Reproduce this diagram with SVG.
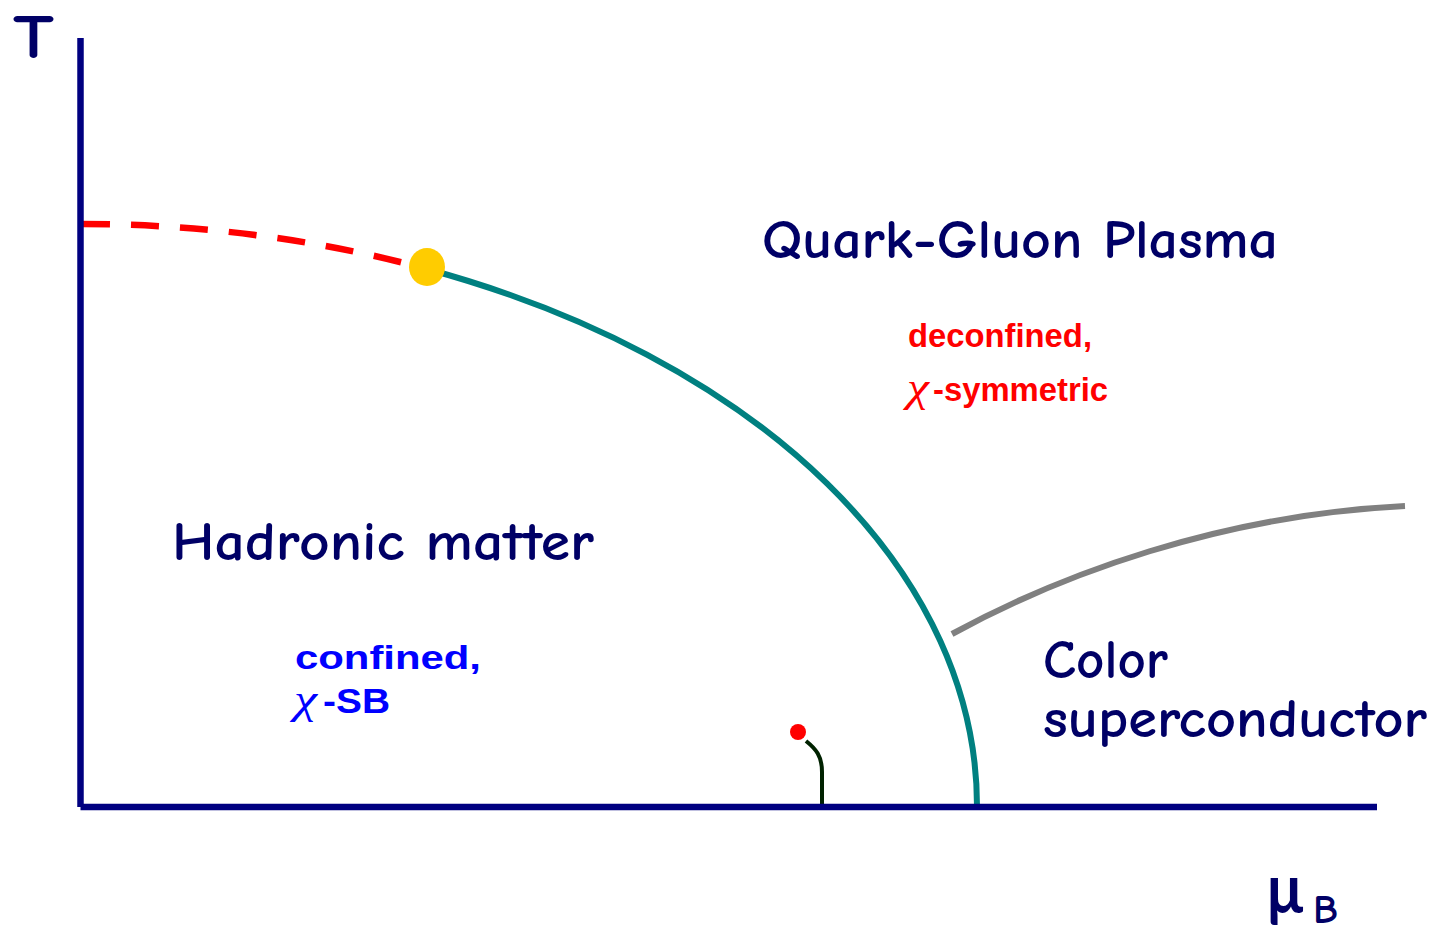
<svg xmlns="http://www.w3.org/2000/svg" width="1433" height="933" viewBox="0 0 1433 933">
  <style>
    .comic { font-family: "Comic Sans MS", "Comic Neue", Lato, "DejaVu Sans", sans-serif; font-weight: bold; fill: #000066; }
    .arial { font-family: "Liberation Sans", Arial, sans-serif; font-weight: bold; }
    .chi { font-family: "Liberation Serif", "Times New Roman", serif; font-weight: normal; font-style: italic; }
    .red { fill: #FF0000; }
    .blue { fill: #0000FF; }
    .axis { stroke: #000080; stroke-width: 6.5; fill: none; }
  </style>
  <rect width="1433" height="933" fill="#FFFFFF"/>

  <g id="curves" fill="none">
    <path id="crossover" d="M 82 224 A 895 582 0 0 1 427 268.98" stroke="#FF0000" stroke-width="6.5" stroke-dasharray="28 21"/>
    <path id="first-order" d="M 427 268.98 A 895 582 0 0 1 977 806" stroke="#008080" stroke-width="6"/>
    <path id="csc-line" d="M 952 634 C 1060 575 1220 515 1405 506" stroke="#808080" stroke-width="6"/>
    <path id="nuclear-line" d="M 806 741 C 816 749 822 756 822 772 L 822 805" stroke="#002200" stroke-width="4"/>
  </g>

  <g id="axes">
    <line class="axis" x1="80.5" y1="38" x2="80.5" y2="807"/>
    <line class="axis" x1="80.5" y1="807" x2="1377" y2="807"/>
  </g>

  <g id="points">
    <ellipse id="critical-point" cx="427" cy="267" rx="18" ry="19" fill="#FFCC00"/>
    <circle id="nuclear-point" cx="798" cy="732" r="8" fill="#FF0000"/>
  </g>

  <g id="axis-labels">
    <text id="label-T" class="comic" x="13" y="58" font-size="62" textLength="41" lengthAdjust="spacingAndGlyphs" font-weight="normal">T</text>
    <text id="label-mu" class="comic" x="1267" y="913" font-size="68" textLength="36" lengthAdjust="spacingAndGlyphs" font-weight="normal">μ</text>
    <text id="label-B" class="comic" x="1313" y="923" font-size="40" textLength="25" lengthAdjust="spacingAndGlyphs" font-weight="normal">B</text>
  </g>

  <g id="qgp">
    <text class="comic" x="762" y="258" font-size="54" textLength="516" lengthAdjust="spacingAndGlyphs">Quark-Gluon Plasma</text>
    <text class="arial red" x="908" y="347" font-size="33" textLength="184" lengthAdjust="spacingAndGlyphs">deconfined,</text>
    <text class="chi red" x="907" y="401" font-size="40" textLength="22" lengthAdjust="spacingAndGlyphs">χ</text>
    <text class="arial red" x="933" y="401" font-size="33" textLength="175" lengthAdjust="spacingAndGlyphs">-symmetric</text>
  </g>

  <g id="hadronic">
    <text class="comic" x="172" y="560" font-size="54" textLength="422" lengthAdjust="spacingAndGlyphs">Hadronic matter</text>
    <text class="arial blue" x="295" y="669" font-size="33" textLength="186" lengthAdjust="spacingAndGlyphs">confined,</text>
    <text class="chi blue" x="294" y="713" font-size="42" textLength="23" lengthAdjust="spacingAndGlyphs">χ</text>
    <text class="arial blue" x="323" y="713" font-size="35" textLength="67" lengthAdjust="spacingAndGlyphs">-SB</text>
  </g>

  <g id="csc">
    <text class="comic" x="1043" y="678" font-size="54" textLength="125" lengthAdjust="spacingAndGlyphs">Color</text>
    <text class="comic" x="1043" y="737" font-size="54" textLength="384" lengthAdjust="spacingAndGlyphs">superconductor</text>
  </g>
</svg>
